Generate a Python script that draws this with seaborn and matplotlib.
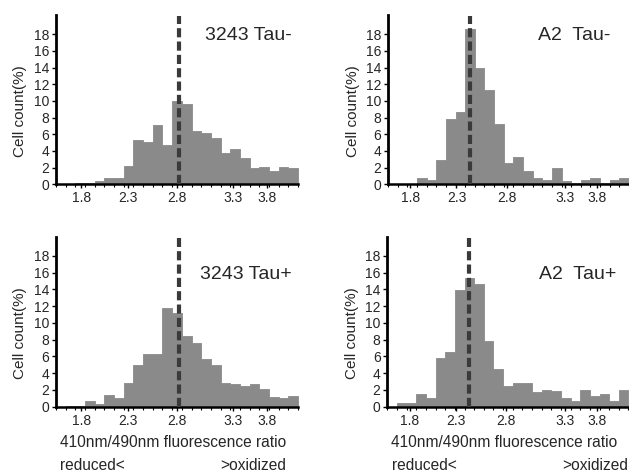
import numpy as np
import pandas as pd
import seaborn as sns
import matplotlib
import matplotlib.pyplot as plt

matplotlib.use("Agg")

sns.set_style("ticks")
plt.rcParams["font.family"] = ["Liberation Sans", "DejaVu Sans"]

# bins of the ratio histogram (width 0.1)
bin_edges = list(np.round(np.linspace(1.55, 4.05, 26), 3))
bin_centers = [round((a + b) / 2, 3) for a, b in zip(bin_edges[:-1], bin_edges[1:])]

# cell count (%) per bin
tau_minus_3243 = [0, 0, 0.1, 0.1, 0.4, 0.7, 0.7, 2.2, 5.3, 5.1, 7.1, 4.7, 10.0,
                  9.6, 6.4, 6.2, 5.6, 3.7, 4.2, 3.1, 2.0, 2.1, 1.6, 2.1, 2.0]
tau_minus_a2 = [0, 0, 0, 0.7, 0.5, 2.9, 7.8, 8.7, 18.6, 14.0, 11.3, 7.2, 2.5,
                3.3, 1.6, 0.8, 0.5, 1.9, 0.4, 0.1, 0.5, 0.8, 0.1, 0.5, 0.8]
tau_plus_3243 = [0, 0.05, 0.1, 0.7, 0.3, 1.4, 1.0, 2.8, 5.0, 6.3, 6.3, 11.8, 11.2,
                 8.4, 7.6, 5.7, 5.0, 2.8, 2.7, 2.5, 2.7, 2.1, 1.1, 1.0, 1.3]
tau_plus_a2 = [0, 0.5, 0.5, 1.5, 1.0, 5.8, 6.5, 13.9, 15.4, 14.7, 7.9, 4.5, 2.5,
               2.8, 2.8, 1.7, 2.0, 1.9, 1.0, 0.7, 2.0, 1.3, 1.5, 0.7, 2.0]

# dashed marker line (mean ratio)
mean_3243 = 2.82
mean_a2 = 2.40

tick_labels = ["1.8", "2.3", "2.8", "3.3", "3.8"]
tick_pos_left = [1.81, 2.29, 2.80, 3.38, 3.73]
tick_pos_right = [1.78, 2.26, 2.78, 3.39, 3.72]
y_ticks = list(range(0, 20, 2))

panels = [
    ("3243 Tau-", tau_minus_3243, mean_3243, [0.089, 0.6087, 0.3848, 0.3595], tick_pos_left, 4.05, (0.616, 0.878), False),
    ("A2  Tau-", tau_minus_a2, mean_a2, [0.6169, 0.6087, 0.3831, 0.3595], tick_pos_right, 4.01, (0.622, 0.878), False),
    ("3243 Tau+", tau_plus_3243, mean_3243, [0.089, 0.1365, 0.3848, 0.361], tick_pos_left, 4.05, (0.595, 0.78), True),
    ("A2  Tau+", tau_plus_a2, mean_a2, [0.616, 0.1365, 0.3831, 0.361], tick_pos_right, 4.01, (0.63, 0.775), True),
]

bar_gray = "#8a8a8a"

fig = plt.figure(figsize=(6.29, 4.71), dpi=100)

for title, heights, mean_x, pos, tick_pos, xmax, title_xy, bottom_row in panels:
    ax = fig.add_axes(pos)
    df = pd.DataFrame({"ratio": bin_centers, "pct": heights})
    sns.histplot(data=df, x="ratio", weights="pct", bins=bin_edges, element="step",
                 fill=True, color=bar_gray, edgecolor=bar_gray, alpha=1,
                 linewidth=0.6, ax=ax)
    ax.plot([mean_x, mean_x], [0, 20.2], color="#3a3a3a", lw=3,
            ls=(0, (2.2, 1.0)), solid_capstyle="butt", zorder=5)

    ax.set_xlim(1.55, xmax)
    ax.set_ylim(0, 20.3)
    ax.set_yticks(y_ticks)
    ax.set_xticks(tick_pos)
    ax.set_xticklabels(tick_labels)
    ax.set_xticks(bin_edges, minor=True)
    ax.tick_params(axis="both", which="major", labelsize=10, length=3, width=1,
                   pad=2, color="black")
    ax.tick_params(axis="x", which="minor", length=2, width=0.8, color="black")
    for lab in ax.get_xticklabels() + ax.get_yticklabels():
        lab.set_family(["Liberation Sans Narrow", "Liberation Sans", "DejaVu Sans"])

    sns.despine(ax=ax)
    ax.spines["left"].set_linewidth(2)
    ax.spines["bottom"].set_linewidth(1.8)
    ax.spines["left"].set_color("black")
    ax.spines["bottom"].set_color("black")

    ax.set_ylabel("Cell count(%)", fontsize=11)
    ax.yaxis.set_label_coords(-0.118, 0.43)
    ax.set_xlabel("")

    ax.text(title_xy[0], title_xy[1], title, transform=ax.transAxes,
            fontsize=14, ha="left", va="center")

    if bottom_row:
        ax.text(0.485, -0.213, "410nm/490nm fluorescence ratio", transform=ax.transAxes,
                fontsize=11.2, ha="center", va="center")
        ax.text(0.017, -0.343, "reduced<", transform=ax.transAxes,
                fontsize=11.2, ha="left", va="center")
        ax.text(0.95 if pos[0] < 0.5 else 0.997, -0.343, ">oxidized",
                transform=ax.transAxes, fontsize=11.2, ha="right", va="center")

fig.savefig("out.png", dpi=100)
